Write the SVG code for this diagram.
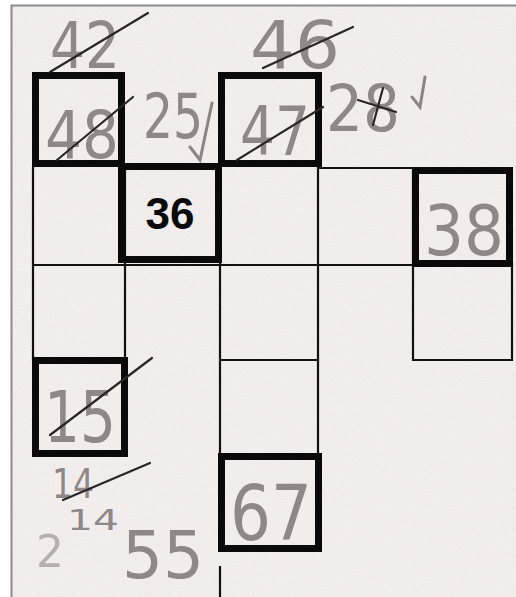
<svg xmlns="http://www.w3.org/2000/svg" width="516" height="597" viewBox="0 0 516 597">
<defs>
<filter id="grain" x="0" y="0" width="100%" height="100%">
<feTurbulence type="fractalNoise" baseFrequency="0.9" numOctaves="1" seed="3" result="n"/>
<feColorMatrix in="n" type="matrix" values="0 0 0 0 0.55  0 0 0 0 0.5  0 0 0 0 0.5  0 0 0 -2.2 1.25" result="d"/>
<feComposite in="d" in2="SourceGraphic" operator="in"/>
</filter>
<style>
.thin{stroke:#111;stroke-width:2.2;fill:none;stroke-linecap:square}
.bold{stroke:#0a0a0a;stroke-width:7;fill:none;stroke-linejoin:miter}
.pencil{font-family:"DejaVu Sans","Liberation Sans",sans-serif;fill:#8e8888}
.strike{stroke:#2a2626;stroke-width:2.2;fill:none;stroke-linecap:round}
.soft{stroke:#8a8484;stroke-width:3;fill:none;stroke-linecap:round}
</style>
</defs>
<rect width="516" height="597" fill="#ffffff"/>
<rect x="11" y="5" width="505" height="592" fill="#f4efef"/>
<rect x="11" y="5" width="505" height="592" fill="#000" filter="url(#grain)" opacity="0.2"/>
<path d="M11.5 597 V5.5 H516" stroke="#8c8c8c" stroke-width="2" fill="none"/>

<g id="grid">
<path class="thin" d="M33 168 V360 M125 168 V455 M33 265 H413 M220 168 V455 M318 168 V455 M220 360 H318 M318 168 H413 M413 168 V360 M512 263 V360 M413 360 H512 M220 567 V597"/>
</g>

<g id="box-48">
<rect class="bold" x="35.5" y="75.5" width="86" height="88"/>
<text class="pencil" x="45" y="158" style="font-size:66px" textLength="74" lengthAdjust="spacingAndGlyphs">48</text>
<line class="strike" x1="57" y1="160" x2="133" y2="97"/>
</g>
<g id="box-36">
<rect class="bold" x="121.5" y="166.5" width="97" height="93"/>
<text x="170" y="229" text-anchor="middle" font-family="Liberation Sans, Arial, sans-serif" font-weight="bold" font-size="44" fill="#0a0a0a">36</text>
</g>
<g id="box-47">
<rect class="bold" x="221.5" y="75.5" width="97" height="88"/>
<text class="pencil" x="240" y="155" style="font-size:68px" textLength="70" lengthAdjust="spacingAndGlyphs">47</text>
<line class="strike" x1="237" y1="160" x2="323" y2="107"/>
</g>
<g id="box-38">
<rect class="bold" x="415.5" y="170.5" width="94" height="93"/>
<text class="pencil" x="424" y="255" style="font-size:70px" textLength="80" lengthAdjust="spacingAndGlyphs">38</text>
</g>
<g id="box-15">
<rect class="bold" x="35.5" y="360.5" width="89" height="93"/>
<text class="pencil" x="44" y="442" style="font-size:72px" textLength="72" lengthAdjust="spacingAndGlyphs">15</text>
<line class="strike" x1="50" y1="435" x2="152" y2="358"/>
</g>
<g id="box-67">
<rect class="bold" x="221.5" y="456.5" width="97" height="92"/>
<text class="pencil" x="230" y="540" style="font-size:76px" textLength="82" lengthAdjust="spacingAndGlyphs">67</text>
</g>

<g id="notes">
<text class="pencil" x="50" y="68" style="font-size:64px" textLength="70" lengthAdjust="spacingAndGlyphs">42</text>
<line class="strike" x1="50" y1="72" x2="148" y2="13"/>
<text class="pencil" x="143" y="138" style="font-size:62px" textLength="60" lengthAdjust="spacingAndGlyphs">25</text>
<path class="soft" d="M190 147 L200 160 L212 103"/>
<text class="pencil" x="250" y="68" style="font-size:66px" textLength="90" lengthAdjust="spacingAndGlyphs">46</text>
<line class="strike" x1="263" y1="68" x2="353" y2="27"/>
<text class="pencil" x="326" y="131" style="font-size:64px" textLength="74" lengthAdjust="spacingAndGlyphs">28</text>
<path class="strike" d="M358 100 L396 112 M383 88 L373 125"/>
<path class="soft" d="M412 97 L420 107 L425 77"/>
<text class="pencil" x="52" y="498" style="font-size:40px" textLength="42" lengthAdjust="spacingAndGlyphs">14</text>
<line class="strike" x1="63" y1="500" x2="150" y2="463"/>
<text class="pencil" x="67" y="530" style="font-size:28px" textLength="52" lengthAdjust="spacingAndGlyphs">14</text>
<text class="pencil" x="36" y="567" style="font-size:44px" opacity="0.6">2</text>
<text class="pencil" x="122" y="578" style="font-size:66px" textLength="82" lengthAdjust="spacingAndGlyphs">55</text>
</g>
</svg>
